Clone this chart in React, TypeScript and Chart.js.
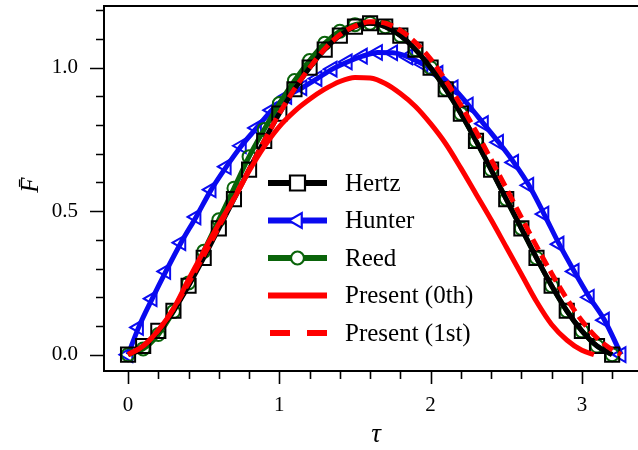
import React, { useEffect, useRef } from 'react';
import { Chart, registerables } from 'chart.js';

Chart.register(...registerables);

// ---- data ----
const hertzT = [0, 0.1, 0.2, 0.3, 0.4, 0.5, 0.6, 0.7, 0.8, 0.9, 1.0, 1.1, 1.2, 1.3, 1.4, 1.5, 1.6, 1.7, 1.8, 1.9, 2.0, 2.1, 2.2, 2.3, 2.4, 2.5, 2.6, 2.7, 2.8, 2.9, 3.0, 3.1, 3.2];
const hertzF = [0, 0.03, 0.083, 0.153, 0.24, 0.337, 0.44, 0.542, 0.645, 0.745, 0.84, 0.925, 1.0, 1.063, 1.112, 1.143, 1.155, 1.143, 1.112, 1.063, 1.0, 0.925, 0.84, 0.745, 0.645, 0.542, 0.44, 0.337, 0.24, 0.153, 0.083, 0.03, 0];

const hunterT = [0, 0.07, 0.16, 0.25, 0.35, 0.45, 0.55, 0.65, 0.75, 0.85, 0.95, 1.05, 1.15, 1.25, 1.35, 1.45, 1.55, 1.65, 1.75, 1.85, 1.95, 2.05, 2.15, 2.25, 2.35, 2.45, 2.55, 2.65, 2.75, 2.85, 2.95, 3.05, 3.15, 3.26];
const hunterF = [0, 0.095, 0.195, 0.29, 0.39, 0.48, 0.575, 0.655, 0.728, 0.79, 0.852, 0.9, 0.93, 0.962, 0.995, 1.02, 1.04, 1.053, 1.052, 1.038, 1.012, 0.98, 0.93, 0.87, 0.805, 0.74, 0.67, 0.59, 0.49, 0.385, 0.29, 0.2, 0.12, 0];

const reedT = [0, 0.1, 0.2, 0.3, 0.4, 0.5, 0.6, 0.7, 0.8, 0.9, 1.0, 1.1, 1.2, 1.3, 1.4, 1.5, 1.6, 1.7, 1.8, 1.9, 2.0, 2.1, 2.2, 2.3, 2.4, 2.5, 2.6, 2.7, 2.8, 2.9, 3.0, 3.1, 3.2];
const reedF = [0, 0.02, 0.07, 0.15, 0.25, 0.36, 0.47, 0.58, 0.69, 0.785, 0.875, 0.955, 1.025, 1.085, 1.127, 1.15, 1.155, 1.143, 1.112, 1.063, 1.0, 0.925, 0.84, 0.745, 0.645, 0.542, 0.44, 0.337, 0.24, 0.153, 0.083, 0.03, 0];

const present0T = [0, 0.1, 0.2, 0.3, 0.4, 0.5, 0.6, 0.7, 0.8, 0.9, 1.0, 1.1, 1.2, 1.3, 1.4, 1.5, 1.6, 1.7, 1.8, 1.9, 2.0, 2.1, 2.2, 2.3, 2.4, 2.5, 2.6, 2.7, 2.8, 2.9, 3.0, 3.08];
const present0F = [0, 0.03, 0.085, 0.16, 0.262, 0.36, 0.455, 0.543, 0.64, 0.725, 0.795, 0.848, 0.89, 0.925, 0.952, 0.966, 0.964, 0.945, 0.91, 0.865, 0.805, 0.735, 0.65, 0.56, 0.47, 0.375, 0.28, 0.185, 0.105, 0.051, 0.015, 0];

const present1T = [0, 0.1, 0.2, 0.3, 0.4, 0.5, 0.6, 0.7, 0.8, 0.9, 1.0, 1.1, 1.2, 1.3, 1.4, 1.5, 1.6, 1.7, 1.8, 1.9, 2.0, 2.1, 2.2, 2.3, 2.4, 2.5, 2.6, 2.7, 2.8, 2.9, 3.0, 3.1, 3.2, 3.26];
const present1F = [0, 0.03, 0.085, 0.16, 0.25, 0.345, 0.445, 0.545, 0.645, 0.745, 0.84, 0.925, 1.0, 1.065, 1.115, 1.145, 1.16, 1.155, 1.13, 1.088, 1.03, 0.955, 0.87, 0.778, 0.68, 0.58, 0.478, 0.378, 0.283, 0.195, 0.118, 0.058, 0.017, 0];

const legendLabels = ['Hertz', 'Hunter', 'Reed', 'Present (0th)', 'Present (1st)'];
const xTitle = 'τ';
const yTitle = 'F\u0304';

// ---- styles ----
const BLACK = '#000000';
const BLUE = '#0a0af0';
const GREEN = '#0a640a';
const RED = '#ff0000';
const SERIF = '"Liberation Serif", "DejaVu Serif", serif';

const pts = (t: number[], f: number[]) => t.map((x, i) => ({ x, y: f[i] }));

export default function App() {
  const ref = useRef<HTMLCanvasElement>(null);

  useEffect(() => {
    const canvas = ref.current;
    if (!canvas) return;

    const decor = {
      id: 'decor',
      afterDraw(chart: any) {
        const ctx = chart.ctx;
        const { left, right, top, bottom } = chart.chartArea;
        const xs = chart.scales.x;
        const ys = chart.scales.y;
        ctx.save();
        ctx.strokeStyle = '#000';
        ctx.lineWidth = 2;
        ctx.setLineDash([]);
        // frame
        ctx.beginPath();
        ctx.moveTo(left, top); ctx.lineTo(right + 2, top);
        ctx.moveTo(left, top - 1); ctx.lineTo(left, bottom + 1);
        ctx.moveTo(left - 1, bottom); ctx.lineTo(right + 2, bottom);
        ctx.stroke();
        // x ticks
        ctx.lineWidth = 1.6;
        ctx.beginPath();
        for (let i = -1; i <= 17; i++) {
          const v = i * 0.2;
          if (v < xs.min || v > xs.max) continue;
          const p = Math.round(xs.getPixelForValue(v)) + 0.5;
          const major = Math.abs(v - Math.round(v)) < 1e-6;
          ctx.moveTo(p, bottom);
          ctx.lineTo(p, bottom + (major ? 13 : 8));
        }
        // y ticks
        for (let i = 0; i <= 12; i++) {
          const v = i * 0.1;
          if (v < ys.min || v > ys.max) continue;
          const p = Math.round(ys.getPixelForValue(v)) + 0.5;
          const major = Math.abs(v * 2 - Math.round(v * 2)) < 1e-6;
          ctx.moveTo(left, p);
          ctx.lineTo(left - (major ? 14 : 8), p);
        }
        ctx.stroke();

        // axis titles
        ctx.fillStyle = '#000';
        ctx.font = `italic 27px ${SERIF}`;
        ctx.textAlign = 'center';
        ctx.textBaseline = 'middle';
        ctx.fillText(xTitle, (left + right) / 2 + 5, 435);
        ctx.save();
        ctx.translate(31, 185);
        ctx.rotate(-Math.PI / 2);
        ctx.font = `italic 25px ${SERIF}`;
        ctx.fillText(yTitle, 0, 0);
        ctx.restore();

        // legend
        const lx0 = left + 164;
        const lx1 = left + 223;
        const cx = (lx0 + lx1) / 2;
        const rowY0 = top + 177;
        const rowH = 37.5;
        const items = [
          { color: BLACK, marker: 'rect' },
          { color: BLUE, marker: 'tri' },
          { color: GREEN, marker: 'circle' },
          { color: RED, marker: 'none' },
          { color: RED, marker: 'dash' },
        ];
        items.forEach((it, i) => {
          const y = rowY0 + i * rowH;
          ctx.strokeStyle = it.color;
          ctx.lineWidth = 6;
          ctx.beginPath();
          if (it.marker === 'dash') {
            ctx.moveTo(lx0 + 2, y); ctx.lineTo(lx0 + 22, y);
            ctx.moveTo(lx0 + 39, y); ctx.lineTo(lx1, y);
          } else {
            ctx.moveTo(lx0, y); ctx.lineTo(lx1, y);
          }
          ctx.stroke();
          ctx.lineWidth = 2.2;
          ctx.fillStyle = '#fff';
          if (it.marker === 'rect') {
            ctx.beginPath();
            ctx.rect(cx - 7.5, y - 7.5, 15, 15);
            ctx.fill(); ctx.stroke();
          } else if (it.marker === 'tri') {
            const r = 8.5;
            ctx.beginPath();
            for (let k = 0; k < 3; k++) {
              const a = -Math.PI / 2 + (k * 2 * Math.PI) / 3;
              const px = cx + Math.sin(a) * r;
              const py = y - Math.cos(a) * r;
              if (k === 0) ctx.moveTo(px, py); else ctx.lineTo(px, py);
            }
            ctx.closePath();
            ctx.fill(); ctx.stroke();
          } else if (it.marker === 'circle') {
            ctx.beginPath();
            ctx.arc(cx, y, 6.5, 0, Math.PI * 2);
            ctx.fill(); ctx.stroke();
          }
          ctx.fillStyle = '#000';
          ctx.font = `25px ${SERIF}`;
          ctx.textAlign = 'left';
          ctx.textBaseline = 'middle';
          ctx.fillText(legendLabels[i], left + 241, y + 1);
        });
        ctx.restore();
      },
    };

    const tickFont = { family: SERIF, size: 21 };

    const chart = new Chart(canvas, {
      type: 'scatter',
      data: {
        datasets: [
          {
            label: legendLabels[4],
            data: pts(present1T, present1F),
            showLine: true,
            borderColor: RED,
            borderWidth: 5,
            borderDash: [12, 6],
            pointRadius: 0,
            cubicInterpolationMode: 'monotone',
            order: 0,
          },
          {
            label: legendLabels[3],
            data: pts(present0T, present0F),
            showLine: true,
            borderColor: RED,
            borderWidth: 5,
            pointRadius: 0,
            cubicInterpolationMode: 'monotone',
            order: 1,
          },
          {
            label: legendLabels[0],
            data: pts(hertzT, hertzF),
            showLine: true,
            borderColor: BLACK,
            borderWidth: 5,
            pointStyle: 'rect',
            pointRadius: 10,
            pointBorderWidth: 2,
            pointBorderColor: BLACK,
            pointBackgroundColor: 'rgba(0,0,0,0)',
            cubicInterpolationMode: 'monotone',
            order: 2,
          },
          {
            label: legendLabels[2],
            data: pts(reedT, reedF),
            showLine: true,
            borderColor: GREEN,
            borderWidth: 5,
            pointStyle: 'circle',
            pointRadius: 6.5,
            pointBorderWidth: 2,
            pointBorderColor: GREEN,
            pointBackgroundColor: 'rgba(0,0,0,0)',
            cubicInterpolationMode: 'monotone',
            order: 3,
          },
          {
            label: legendLabels[1],
            data: pts(hunterT, hunterF),
            showLine: true,
            borderColor: BLUE,
            borderWidth: 5,
            pointStyle: 'triangle',
            pointRotation: -90,
            pointRadius: 8.5,
            pointBorderWidth: 2,
            pointBorderColor: BLUE,
            pointBackgroundColor: 'rgba(0,0,0,0)',
            cubicInterpolationMode: 'monotone',
            order: 4,
          },
        ],
      },
      options: {
        responsive: false,
        animation: false,
        events: [],
        devicePixelRatio: 1,
        layout: { autoPadding: false, padding: { top: 6, left: 0, right: 0, bottom: 0 } },
        plugins: { legend: { display: false }, tooltip: { enabled: false } },
        scales: {
          x: {
            type: 'linear',
            min: -0.159,
            max: 3.371,
            grid: { display: false, drawTicks: false },
            border: { display: false },
            ticks: {
              stepSize: 1,
              includeBounds: false,
              padding: 22,
              color: '#000',
              font: tickFont,
              maxRotation: 0,
              callback: (v: any) => String(Math.round(Number(v))),
            },
            afterFit: (s: any) => {
              s.height = 79;
              s.paddingLeft = 0;
              s.paddingRight = 0;
            },
          },
          y: {
            type: 'linear',
            min: -0.057,
            max: 1.215,
            grid: { display: false, drawTicks: false },
            border: { display: false },
            ticks: {
              stepSize: 0.5,
              includeBounds: false,
              padding: 26,
              color: '#000',
              font: tickFont,
              callback: (v: any) => Number(v).toFixed(1),
            },
            afterFit: (s: any) => {
              s.width = 104;
              s.paddingTop = 0;
              s.paddingBottom = 0;
            },
          },
        },
      },
      plugins: [decor],
    } as any);

    return () => chart.destroy();
  }, []);

  return (
    <div style={{ position: 'fixed', left: 0, top: 0, width: 638, height: 450, overflow: 'hidden', background: '#fff' }}>
      <canvas ref={ref} width={638} height={450} style={{ display: 'block', width: 638, height: 450 }} />
    </div>
  );
}
